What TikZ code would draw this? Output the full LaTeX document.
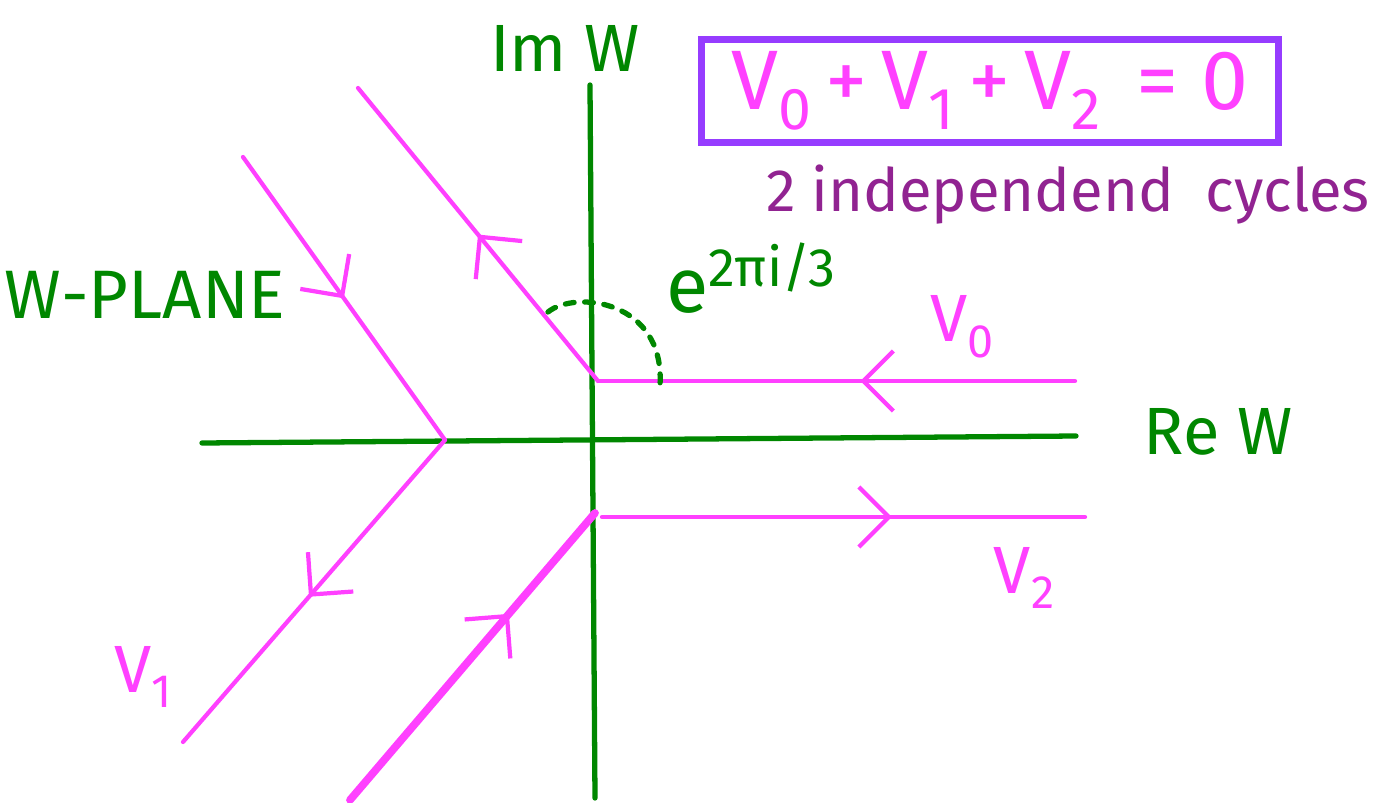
\documentclass[tikz,border=0pt]{standalone}
\usepackage{fontspec}
\setmainfont{Fira Sans}
\usetikzlibrary{decorations.markings,arrows.meta}
\definecolor{axgreen}{RGB}{0,135,0}
\definecolor{pathmag}{RGB}{255,64,255}
\definecolor{boxviolet}{RGB}{150,60,255}
\definecolor{txtpurple}{RGB}{145,35,145}
\newcommand{\Vs}[1]{V\raisebox{-0.45ex}{\scalebox{0.7}{#1}}}
\begin{document}
\begin{tikzpicture}[x=0.01cm,y=-0.01cm,
  axis/.style={draw=axgreen,line width=1.5pt,line cap=round},
  cyc/.style={draw=pathmag,line width=1.2pt,line cap=round,line join=round},
  midarrow/.style={postaction={decorate},decoration={markings,
     mark=at position #1 with {\arrow[pathmag,line width=1.2pt]{Straight Barb[length=3mm,width=6mm]}}}},
  lbl/.style={inner sep=0pt,anchor=center}]
\useasboundingbox (0,0) rectangle (1393,803);
% axes
\coordinate (ytop) at (590,85);
\coordinate (ybot) at (595,798);
\coordinate (xleft) at (202,443);
\coordinate (xright) at (1076,436);
\draw[axis] (ybot) -- (ytop);
\draw[axis] (xleft) -- (xright);
% V0
\coordinate (a0) at (1075,381);
\coordinate (b0) at (598,381);
\coordinate (c0) at (358,88);
\draw[cyc,midarrow=0.45] (a0) -- (b0);
\draw[cyc,midarrow=0.5] (b0) -- (c0);
% V1
\coordinate (a1) at (243,157);
\coordinate (b1) at (445,440);
\coordinate (c1) at (183,742);
\draw[cyc,midarrow=0.5] (a1) -- (b1);
\draw[cyc,midarrow=0.52] (b1) -- (c1);
% V2
\coordinate (a2) at (350,800);
\coordinate (b2) at (595,513);
\coordinate (c2) at (602,517);
\coordinate (d2) at (1085,517);
\draw[cyc,line width=2.2pt,midarrow=0.65] (a2) -- (b2);
\draw[cyc,midarrow=0.6] (c2) -- (d2);
% angle arc
\coordinate (arcs) at (548,312);
\coordinate (arce) at (660,385);
\draw[axgreen,line width=1.5pt,line cap=round,dash pattern=on 2.5pt off 3pt]
  (arcs) .. controls (575,290) and (665,300) .. (arce);
% labels
\node[lbl,text=axgreen,font=\fontsize{19}{23}\selectfont] (imw) at (565,48) {Im W};
\node[lbl,text=axgreen,font=\fontsize{19}{23}\selectfont] (rew) at (1218,432) {Re W};
\node[lbl,text=axgreen,font=\fontsize{19.5}{23}\selectfont] (wplane) at (145,295) {W-PLANE};
\node[lbl,text=axgreen,font=\fontsize{22}{26}\selectfont] (expo) at (752,278) {e\textsuperscript{2πi/3}};
\node[lbl,text=pathmag,font=\fontsize{19}{23}\selectfont] (v0) at (962,327) {\Vs{0}};
\node[lbl,text=pathmag,font=\fontsize{19}{23}\selectfont] (v1) at (143,677) {\Vs{1}};
\node[lbl,text=pathmag,font=\fontsize{19}{23}\selectfont] (v2) at (1024,578) {\Vs{2}};
% box
\node[draw=boxviolet,line width=2pt,minimum width=5.76cm,minimum height=1.02cm,inner sep=0pt,
  text=pathmag,font=\fontsize{24}{28}\selectfont] (eq) at (990,91)
  {\Vs{0}\,+\,\Vs{1}\,+\,\Vs{2}\, = 0};
\node[lbl,text=txtpurple,font=\fontsize{17}{21}\selectfont] (cyc) at (1068,195) {2 independend\ \ cycles};
\end{tikzpicture}
\end{document}
